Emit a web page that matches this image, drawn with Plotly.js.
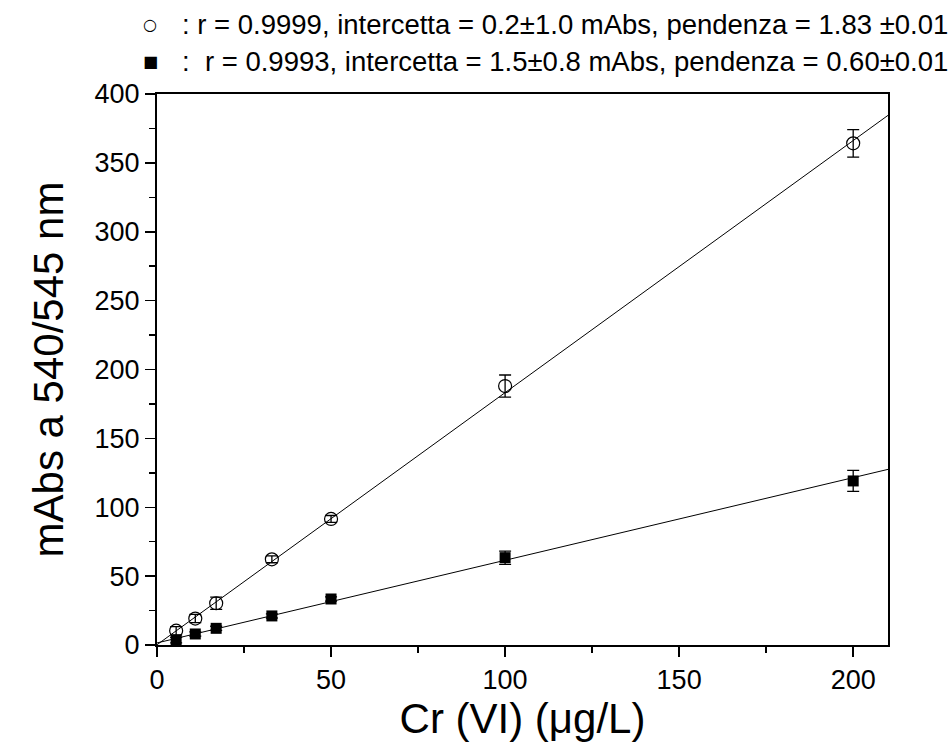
<!DOCTYPE html>
<html>
<head>
<meta charset="utf-8">
<script src="https://cdn.plot.ly/plotly-3.0.1.min.js"></script>
<style>html,body{margin:0;padding:0;background:#fff;}#chart{width:950px;height:746px;}</style>
</head>
<body>
<div id="chart"></div>
<script>
// Concentrations Cr(VI) (µg/L)
const conc = [5.5, 11, 17, 33, 50, 100, 200];
// Open circles series (mAbs)
const circleY = [10.4, 19.2, 30.3, 62.2, 91.5, 188, 364.2];
const circleErr = [3, 3, 4.5, 2.5, 2.5, 8, 10];
// Filled squares series (mAbs)
const squareY = [3.6, 8, 12.1, 21.1, 33.4, 63.4, 119.1];
const squareErr = [2, 1.5, 1.5, 1.5, 1.5, 4.8, 7.6];
// Fit line endpoints
const fitX = [0, 210];
const fitCircleY = [0.2, 384.5];
const fitSquareY = [1.5, 127.5];
// Legend texts
const legendCircle = ': r = 0.9999, intercetta = 0.2±1.0 mAbs, pendenza = 1.83 ±0.01';
const legendSquare = ':  r = 0.9993, intercetta = 1.5±0.8 mAbs, pendenza = 0.60±0.01';
const xTitle = 'Cr (VI) (μg/L)';
const yTitle = 'mAbs a 540/545 nm';

const FONT = 'Liberation Sans, Arial, sans-serif';

const traces = [
  {x: fitX, y: fitCircleY, mode: 'lines', line: {color: '#000', width: 1}, showlegend: false, hoverinfo: 'skip'},
  {x: fitX, y: fitSquareY, mode: 'lines', line: {color: '#000', width: 1}, showlegend: false, hoverinfo: 'skip'},
  {x: conc, y: circleY, mode: 'markers', showlegend: false,
   marker: {symbol: 'circle-open', size: 13, color: '#000', line: {width: 1.2, color: '#000'}},
   error_y: {type: 'data', array: circleErr, visible: true, color: '#000', thickness: 1.3, width: 6}},
  {x: conc, y: squareY, mode: 'markers', showlegend: false,
   marker: {symbol: 'square', size: 11, color: '#000'},
   error_y: {type: 'data', array: squareErr, visible: true, color: '#000', thickness: 1.3, width: 6}}
];

const W = 731, H = 551;
function px(p){ return (p - 157) / W; }
function py(p){ return (645 - p) / H; }

const layout = {
  width: 950, height: 746,
  margin: {l: 157, r: 62, t: 94, b: 101},
  paper_bgcolor: '#fff', plot_bgcolor: '#fff',
  font: {family: FONT, color: '#000'},
  showlegend: false,
  xaxis: {
    range: [0, 210], dtick: 50, tick0: 0,
    showgrid: false, zeroline: false,
    showline: true, linecolor: '#000', linewidth: 2, mirror: true,
    ticks: 'outside', ticklen: 10, tickwidth: 1.5, tickcolor: '#000',
    minor: {dtick: 25, ticks: 'outside', ticklen: 6, tickwidth: 1.5, tickcolor: '#000', showgrid: false},
    tickfont: {size: 27, family: FONT},
    title: {text: xTitle, font: {size: 42, family: FONT}, standoff: 6}
  },
  yaxis: {
    range: [0, 400], dtick: 50, tick0: 0,
    showgrid: false, zeroline: false,
    showline: true, linecolor: '#000', linewidth: 2, mirror: true,
    ticks: 'outside', ticklen: 10, tickwidth: 1.5, tickcolor: '#000',
    minor: {dtick: 25, ticks: 'outside', ticklen: 6, tickwidth: 1.5, tickcolor: '#000', showgrid: false},
    tickfont: {size: 27, family: FONT},
    title: {text: yTitle, font: {size: 42, family: FONT}, standoff: 18}
  },
  annotations: [
    {xref: 'paper', yref: 'paper', x: px(150), y: py(24), text: '○', showarrow: false, xanchor: 'center', yanchor: 'middle', font: {size: 16, family: 'DejaVu Sans', color: '#000'}},
    {xref: 'paper', yref: 'paper', x: px(180), y: py(24), text: legendCircle, showarrow: false, xanchor: 'left', yanchor: 'middle', font: {size: 27.5, family: FONT, color: '#000'}},
    {xref: 'paper', yref: 'paper', x: px(150), y: py(62), text: '■', showarrow: false, xanchor: 'center', yanchor: 'middle', font: {size: 16, family: 'DejaVu Sans', color: '#000'}},
    {xref: 'paper', yref: 'paper', x: px(180), y: py(62), text: legendSquare, showarrow: false, xanchor: 'left', yanchor: 'middle', font: {size: 27.5, family: FONT, color: '#000'}}
  ]
};

Plotly.newPlot('chart', traces, layout, {displayModeBar: false, staticPlot: true});
</script>
</body>
</html>
